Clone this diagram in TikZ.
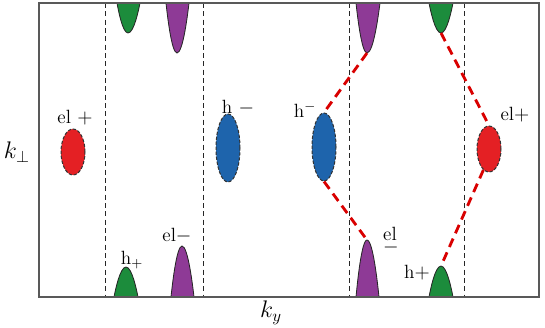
\documentclass[tikz,border=0pt]{standalone}
\usepackage{amsmath}
\usepackage{tikz}
\usetikzlibrary{shapes.geometric}

\definecolor{elred}{RGB}{228,32,36}
\definecolor{hblue}{RGB}{30,100,172}
\definecolor{hgreen}{RGB}{28,140,60}
\definecolor{elpurple}{RGB}{142,58,150}

\begin{document}
\begin{tikzpicture}[
  x=0.6pt, y=-0.6pt,
  pocket/.style={ellipse, draw=black!80, dash pattern=on 2pt off 1pt, line width=0.6pt, inner sep=0pt, minimum width=14.4pt},
  elpocket/.style={pocket, fill=elred, minimum height=27.6pt},
  hpocket/.style={pocket, fill=hblue, minimum height=40.8pt},
  horn/.style={draw=black!85, line width=0.5pt},
  zone/.style={black!85, line width=0.5pt, dash pattern=on 3pt off 2pt},
  nest/.style={red!85!black, line width=1.7pt, dash pattern=on 5.5pt off 3.5pt},
  lbl/.style={inner sep=0pt, font=\fontsize{11.5}{13}\selectfont}
]
\useasboundingbox (0,0) rectangle (545,327);
% zone borders
\draw[zone] (105,3) -- (105,297);
\draw[zone] (203,3) -- (203,297);
\draw[zone] (349,3) -- (349,297);
\draw[zone] (464,3) -- (464,297);
% horn tips
\coordinate (gT1) at (128,33);
\coordinate (pT1) at (177,53);
\coordinate (pT2) at (367,53);
\coordinate (gT2) at (441,33);
\coordinate (gB1) at (126,267);
\coordinate (pB1) at (182,246);
\coordinate (pB2) at (367,240);
\coordinate (gB2) at (441,266);
\filldraw[horn, fill=hgreen] (117,3) parabola bend (gT1) (140,3);
\filldraw[horn, fill=elpurple] (166,3) parabola bend (pT1) (189,3);
\filldraw[horn, fill=elpurple] (356,3) parabola bend (pT2) (380,3);
\filldraw[horn, fill=hgreen] (429,3) parabola bend (gT2) (453,3);
\filldraw[horn, fill=hgreen] (114,297) parabola bend (gB1) (138,297);
\filldraw[horn, fill=elpurple] (171,297) parabola bend (pB1) (194,297);
\filldraw[horn, fill=elpurple] (356,297) parabola bend (pB2) (379,297);
\filldraw[horn, fill=hgreen] (429,297) parabola bend (gB2) (453,297);
% pockets
\node[elpocket] (elL) at (73,152) {};
\node[hpocket] (hL) at (228,148) {};
\node[hpocket] (hR) at (324,147) {};
\node[elpocket] (elR) at (489,149) {};
% frame
\draw[black!65, line width=0.9pt] (39,3) rectangle (539,297);
% connections
\draw[nest] (pT2) -- (hR.north);
\draw[nest] (hR.south) -- (pB2);
\draw[nest] (gT2) -- (elR.north);
\draw[nest] (elR.-105) -- (gB2);
% labels
\node[lbl] (lElL) at (75,118) {el $+$};
\node[lbl] (lHL) at (238,108) {h $-$};
\node[lbl] (lHR) at (305,110) {h$^{-}$};
\node[lbl] (lElR) at (515,115) {el$+$};
\node[lbl] (lHB1) at (132,260) {h$_{+}$};
\node[lbl] (lElB1) at (177,236) {el$-$};
\node[lbl] (lElB2) at (390,241) {\rlap{\raisebox{-7pt}{$-$}}el};
\node[lbl] (lHB2) at (417,273) {h$+$};
\node[lbl, font=\Large] (kperp) at (17,152) {$k_\perp$};
\node[lbl, font=\Large] (ky) at (271,313) {$k_y$};
\end{tikzpicture}
\end{document}
